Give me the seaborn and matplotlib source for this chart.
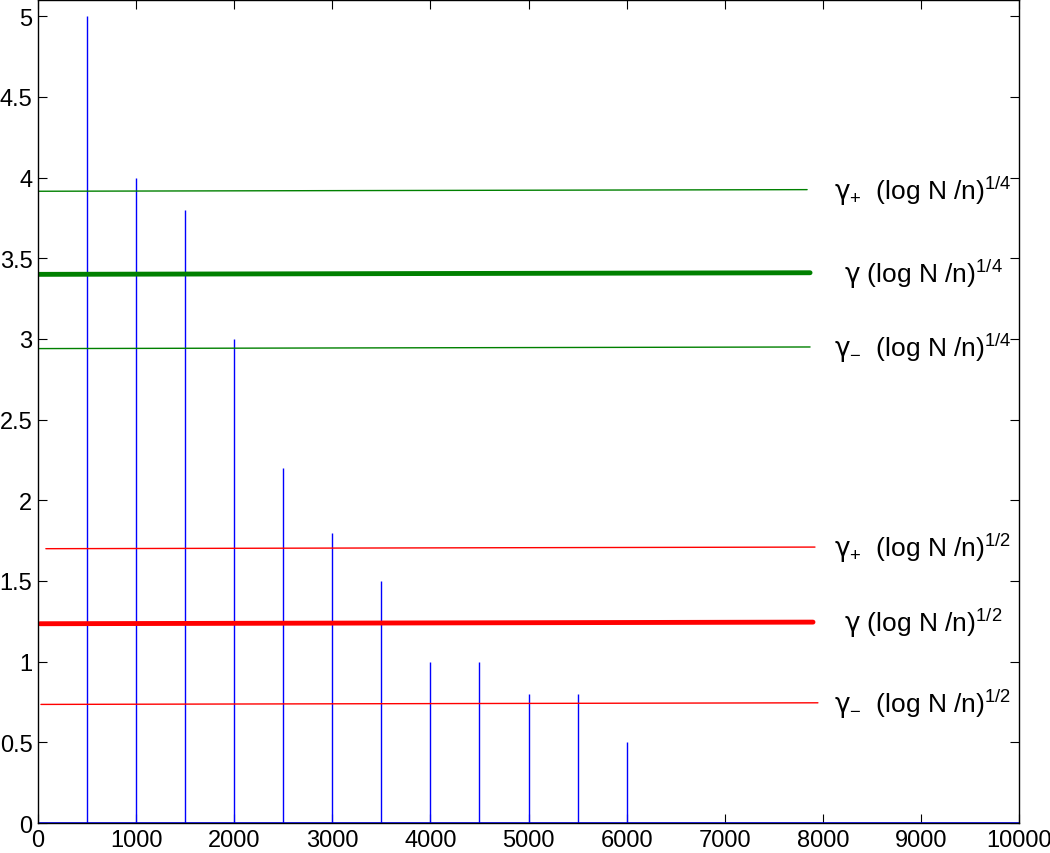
import seaborn as sns
import matplotlib.pyplot as plt
import numpy as np
import pandas as pd

# stem data
stem_x = [500, 1000, 1500, 2000, 2500, 3000, 3500, 4000, 4500, 5000, 5500, 6000]
stem_y = [5.0, 4.0, 3.8, 3.0, 2.2, 1.8, 1.5, 1.0, 1.0, 0.8, 0.8, 0.5]

# horizontal reference lines: start/end x and y
line_names = ["g_plus_4", "g_4", "g_minus_4", "g_plus_2", "g_2", "g_minus_2"]
line_x0 = [0, 0, 0, 80, 20, 30]
line_x1 = [7840, 7870, 7870, 7920, 7900, 7950]
line_y0 = [3.915, 3.40, 2.94, 1.70, 1.235, 0.735]
line_y1 = [3.925, 3.41, 2.95, 1.71, 1.245, 0.745]
line_labels = [
    r"$\gamma_{+}$  (log N /n)$^{1/4}$",
    r"$\gamma$ (log N /n)$^{1/4}$",
    r"$\gamma_{-}$  (log N /n)$^{1/4}$",
    r"$\gamma_{+}$  (log N /n)$^{1/2}$",
    r"$\gamma$ (log N /n)$^{1/2}$",
    r"$\gamma_{-}$  (log N /n)$^{1/2}$",
]
label_x = [8110, 8220, 8110, 8110, 8220, 8110]

sns.set_style("ticks")
plt.rcParams["font.family"] = ["Liberation Sans", "DejaVu Sans"]
plt.rcParams["mathtext.fontset"] = "custom"
plt.rcParams["mathtext.rm"] = "Liberation Sans"
plt.rcParams["mathtext.it"] = "DejaVu Sans"
plt.rcParams["mathtext.bf"] = "Liberation Sans:bold"
plt.rcParams["text.color"] = "black"
plt.rcParams["xtick.color"] = "black"
plt.rcParams["ytick.color"] = "black"

colors = ["#008000", "#008000", "#008000", "#ff0000", "#ff0000", "#ff0000"]
widths = [1.0, 3.5, 1.0, 1.0, 3.5, 1.0]

fig = plt.figure(figsize=(10.5, 8.54), dpi=100)
ax = fig.add_axes([0.0362, 0.0351, 0.9343, 0.9637])

ax.vlines(stem_x, 0, stem_y, color="#0000ff", linewidth=1.0)
ax.axhline(0, color="#0000ff", linewidth=1.2)

for i in range(len(line_names)):
    df = pd.DataFrame({"x": [line_x0[i], line_x1[i]], "y": [line_y0[i], line_y1[i]]})
    sns.lineplot(data=df, x="x", y="y", color=colors[i], linewidth=widths[i], ax=ax)
    ax.text(label_x[i], line_y1[i], line_labels[i], fontsize=19,
            ha="left", va="center", color="black")

ax.set_xlim(0, 10000)
ax.set_ylim(0, 5.1)
ax.set_xticks(np.arange(0, 10001, 1000))
ax.set_yticks(np.arange(0, 5.01, 0.5))
ax.set_yticklabels(["0", "0.5", "1", "1.5", "2", "2.5", "3", "3.5", "4", "4.5", "5"])
ax.set_xlabel("")
ax.set_ylabel("")
ax.tick_params(direction="in", length=6.5, width=0.8, labelsize=17,
               top=True, right=True, pad=4, colors="black")
for s in ax.spines.values():
    s.set_visible(True)
    s.set_linewidth(1.0)
    s.set_color("black")

fig.savefig("out.png", dpi=100)
